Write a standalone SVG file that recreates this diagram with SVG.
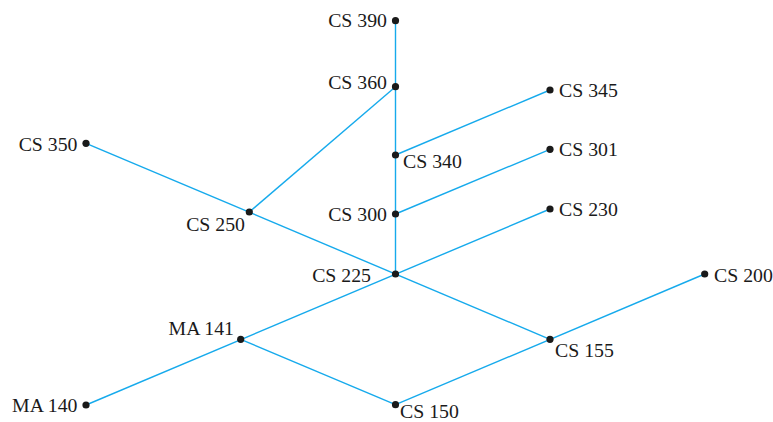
<svg xmlns="http://www.w3.org/2000/svg" width="773" height="422" viewBox="0 0 773 422">
<style>
.e{stroke:#16aaec;stroke-width:1.4;fill:none}
.d{fill:#1a1a1a}
.t{font-family:"Liberation Serif","Times New Roman",serif;font-size:19.8px;fill:#1a1a1a}
.r{text-anchor:end}
</style>
<rect width="773" height="422" fill="#ffffff"/>
<g id="connectors">
<line class="e" x1="395.5" y1="20.7" x2="395.5" y2="274"/>
<line class="e" x1="395.5" y1="86.7" x2="249.3" y2="212"/>
<line class="e" x1="395.5" y1="155" x2="550" y2="90"/>
<line class="e" x1="395.5" y1="214" x2="550" y2="149.3"/>
<line class="e" x1="86" y1="143.3" x2="550" y2="339.3"/>
<line class="e" x1="86" y1="405" x2="550" y2="209"/>
<line class="e" x1="240.7" y1="339.3" x2="395.5" y2="404.7"/>
<line class="e" x1="395.5" y1="404.7" x2="704.7" y2="274"/>
</g>
<g id="cs390"><circle class="d" cx="395.5" cy="20.7" r="3.6"/><text class="t r" x="387" y="27.3">CS 390</text></g>
<g id="cs360"><circle class="d" cx="395.5" cy="86.7" r="3.6"/><text class="t r" x="387" y="89.3">CS 360</text></g>
<g id="cs345"><circle class="d" cx="550" cy="90" r="3.6"/><text class="t" x="559" y="96.7">CS 345</text></g>
<g id="cs340"><circle class="d" cx="395.5" cy="155" r="3.6"/><text class="t" x="403" y="167.7">CS 340</text></g>
<g id="cs301"><circle class="d" cx="550" cy="149.3" r="3.6"/><text class="t" x="559" y="156">CS 301</text></g>
<g id="cs350"><circle class="d" cx="86" cy="143.3" r="3.6"/><text class="t r" x="77.5" y="150.7">CS 350</text></g>
<g id="cs250"><circle class="d" cx="249.3" cy="212" r="3.6"/><text class="t r" x="245" y="230.7">CS 250</text></g>
<g id="cs300"><circle class="d" cx="395.5" cy="214" r="3.6"/><text class="t r" x="387" y="220.7">CS 300</text></g>
<g id="cs230"><circle class="d" cx="550" cy="209" r="3.6"/><text class="t" x="559" y="215.7">CS 230</text></g>
<g id="cs225"><circle class="d" cx="395.5" cy="274" r="3.6"/><text class="t r" x="371" y="281.7">CS 225</text></g>
<g id="cs200"><circle class="d" cx="704.7" cy="274" r="3.6"/><text class="t" x="714" y="281.7">CS 200</text></g>
<g id="ma141"><circle class="d" cx="240.7" cy="339.3" r="3.6"/><text class="t r" x="234" y="335">MA 141</text></g>
<g id="cs155"><circle class="d" cx="550" cy="339.3" r="3.6"/><text class="t" x="555" y="357.3">CS 155</text></g>
<g id="ma140"><circle class="d" cx="86" cy="405" r="3.6"/><text class="t r" x="77.5" y="411.7">MA 140</text></g>
<g id="cs150"><circle class="d" cx="395.5" cy="404.7" r="3.6"/><text class="t" x="400" y="418">CS 150</text></g>
</svg>
